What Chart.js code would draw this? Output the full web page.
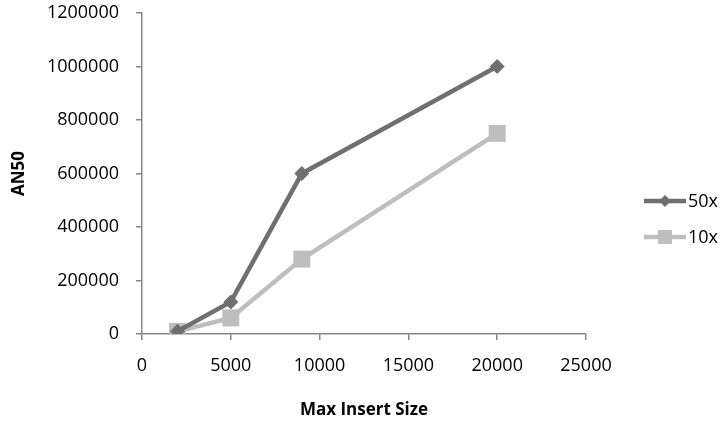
<!DOCTYPE html>
<html>
<head>
<meta charset="utf-8">
<script src="https://cdn.jsdelivr.net/npm/chart.js@4/dist/chart.umd.min.js"></script>
<style>
  html, body { margin: 0; padding: 0; background: #ffffff; }
  #wrap { width: 723px; height: 421px; }
</style>
</head>
<body>
<div id="wrap"><canvas id="c" width="723" height="421"></canvas></div>
<script>
// Max insert size (x) against AN50 (y) for two coverage levels
const insertSizes = [2000, 5000, 9000, 20000];
const an50_50x = [10000, 120000, 600000, 1000000];
const an50_10x = [10000, 60000, 280000, 750000];
const seriesNames = ['50x', '10x'];
const xTicks = [0, 5000, 10000, 15000, 20000, 25000];
const yTicks = [0, 200000, 400000, 600000, 800000, 1000000, 1200000];

const FONT = "'Open Sans', 'Liberation Sans', sans-serif";
const AXIS_GRAY = '#868686';
const DARK = '#6f6f6f';
const LIGHT = '#bebebe';

const toPoints = (ys) => insertSizes.map((x, i) => ({ x: x, y: ys[i] }));

// Legend drawn at the right: a short line with the series marker, then the name
const sideLegend = {
  id: 'sideLegend',
  afterDraw(chart) {
    const ctx = chart.ctx;
    const rows = [201, 237];
    chart.data.datasets.forEach((ds, i) => {
      const y = rows[i];
      ctx.save();
      ctx.strokeStyle = ds.borderColor;
      ctx.lineWidth = ds.borderWidth;
      ctx.beginPath();
      ctx.moveTo(644, y);
      ctx.lineTo(686, y);
      ctx.stroke();
      ctx.fillStyle = ds.borderColor;
      ctx.beginPath();
      if (ds.pointStyle === 'rectRot') {
        const r = 6;
        ctx.moveTo(665 - r, y);
        ctx.lineTo(665, y - r);
        ctx.lineTo(665 + r, y);
        ctx.lineTo(665, y + r);
        ctx.closePath();
      } else {
        ctx.rect(665 - 7, y - 7, 14, 14);
      }
      ctx.fill();
      ctx.fillStyle = '#000000';
      ctx.font = '18px ' + FONT;
      ctx.textAlign = 'left';
      ctx.textBaseline = 'middle';
      ctx.fillText(ds.label, 688, y + 1);
      ctx.restore();
    });
  }
};

new Chart(document.getElementById('c'), {
  type: 'line',
  data: {
    datasets: [
      {
        label: seriesNames[0],
        data: toPoints(an50_50x),
        borderColor: DARK,
        backgroundColor: DARK,
        borderWidth: 4.5,
        pointStyle: 'rectRot',
        pointRadius: 7.5,
        pointBorderWidth: 0,
        tension: 0
      },
      {
        label: seriesNames[1],
        data: toPoints(an50_10x),
        borderColor: LIGHT,
        backgroundColor: LIGHT,
        borderWidth: 4.5,
        pointStyle: 'rect',
        pointRadius: 12,
        pointBorderWidth: 0,
        tension: 0
      }
    ]
  },
  options: {
    responsive: false,
    animation: false,
    devicePixelRatio: 1,
    layout: { padding: { left: 0, right: 137, top: 13, bottom: 0 } },
    plugins: {
      legend: { display: false },
      tooltip: { enabled: false }
    },
    scales: {
      x: {
        type: 'linear',
        min: 0,
        max: 25000,
        afterBuildTicks(scale) { scale.ticks = xTicks.map(v => ({ value: v })); },
        afterFit(scale) { scale.height = 87; scale.paddingRight = 0; },
        grid: { drawOnChartArea: false, drawTicks: true, tickLength: 6, color: AXIS_GRAY, lineWidth: 1.5 },
        border: { color: AXIS_GRAY, width: 1.5 },
        ticks: {
          padding: 15,
          color: '#000000',
          font: { family: FONT, size: 18 },
          maxRotation: 0,
          callback: (v) => String(v)
        },
        title: {
          display: true,
          text: 'Max Insert Size',
          color: '#000000',
          font: { family: FONT, size: 17, weight: 'bold' },
          padding: { top: 0, bottom: 1 }
        }
      },
      y: {
        type: 'linear',
        min: 0,
        max: 1200000,
        afterBuildTicks(scale) { scale.ticks = yTicks.map(v => ({ value: v })); },
        afterFit(scale) { scale.width = 142; scale.paddingTop = 0; scale.paddingBottom = 0; },
        grid: { drawOnChartArea: false, drawTicks: true, tickLength: 6, color: AXIS_GRAY, lineWidth: 1.5 },
        border: { color: AXIS_GRAY, width: 1.5 },
        ticks: {
          padding: 17,
          color: '#000000',
          font: { family: FONT, size: 18 },
          callback: (v) => String(v)
        },
        title: {
          display: true,
          text: 'AN50',
          color: '#000000',
          font: { family: FONT, size: 17, weight: 'bold' },
          padding: { top: 9, bottom: 0 }
        }
      }
    }
  },
  plugins: [sideLegend]
});
</script>
</body>
</html>
